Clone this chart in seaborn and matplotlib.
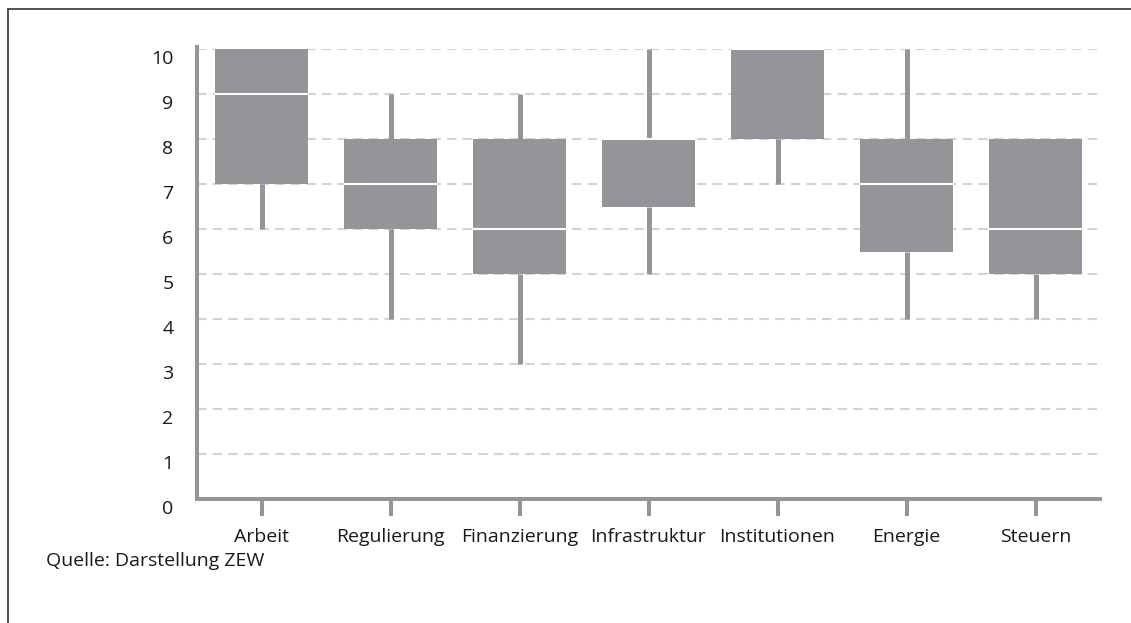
import numpy as np
import pandas as pd
import matplotlib
matplotlib.use("Agg")
import matplotlib.pyplot as plt
import matplotlib.transforms as mtransforms
from matplotlib.lines import Line2D
import seaborn as sns

# ---------------------------------------------------------------------------
# Data (five-number summary per category)
# ---------------------------------------------------------------------------
categories = ["Arbeit", "Regulierung", "Finanzierung", "Infrastruktur",
              "Institutionen", "Energie", "Steuern"]
whisker_low = [6, 4, 3, 5, 7, 4, 4]
q1 = [7, 6, 5, 6.5, 8, 5.5, 5]
median = [9, 7, 6, 8, 10, 7, 6]
q3 = [10, 8, 8, 8, 10, 8, 8]
whisker_high = [10, 9, 9, 10, 10, 10, 8]
y_ticks = list(range(0, 11))
source_text = "Quelle: Darstellung ZEW"

# five points per category reproduce the summary exactly
rows = []
for i, cat in enumerate(categories):
    for v in (whisker_low[i], q1[i], median[i], q3[i], whisker_high[i]):
        rows.append({"Bereich": cat, "Wert": v})
df = pd.DataFrame(rows)

# ---------------------------------------------------------------------------
# Style
# ---------------------------------------------------------------------------
sns.set_style("white")
plt.rcParams["font.family"] = ["Open Sans", "DejaVu Sans"]

BOX_GREY = "#939598"
GRID_GREY = "#d3d3d3"
TEXT = "#1a1a1a"

fig = plt.figure(figsize=(11.31, 6.23), dpi=100)
ax = fig.add_axes([197 / 1131, 1 - 499 / 623, (1100 - 197) / 1131, (499 - 49) / 623])

sns.boxplot(
    data=df, x="Bereich", y="Wert", order=categories, ax=ax,
    color=BOX_GREY, saturation=1, width=0.72, whis=(0, 100),
    showcaps=False, fliersize=0,
    boxprops=dict(facecolor=BOX_GREY, edgecolor="none", linewidth=0),
    whiskerprops=dict(color=BOX_GREY, linewidth=3.6, solid_capstyle="butt"),
    medianprops=dict(color="white", linewidth=1.5),
)

ax.set_ylim(0, 10)
ax.set_xlim(-0.5, len(categories) - 0.5)
ax.set_yticks(y_ticks)
ax.set_xlabel("")
ax.set_ylabel("")

# dashed grid, behind the boxes
ax.set_axisbelow(True)
ax.yaxis.grid(True, color=GRID_GREY, linewidth=1.5, linestyle=(0, (4.5, 3)))
ax.xaxis.grid(False)

for side in ["top", "right"]:
    ax.spines[side].set_visible(False)
for side in ["left", "bottom"]:
    ax.spines[side].set_color(BOX_GREY)
    ax.spines[side].set_linewidth(2.9)
ax.spines["left"].set_bounds(0, 10.05)

ax.tick_params(axis="x", bottom=True, direction="out", length=12, width=2.9,
               color=BOX_GREY, pad=9, labelsize=14, labelcolor=TEXT)
ax.tick_params(axis="y", left=False, length=0, pad=17, labelsize=14, labelcolor=TEXT)

# y labels sit a little below their gridlines in the original
shift = mtransforms.ScaledTranslation(0, -8 / 100, fig.dpi_scale_trans)
for lbl in ax.get_yticklabels():
    lbl.set_transform(lbl.get_transform() + shift)

fig.text(46 / 1131, 1 - 561 / 623, source_text, fontsize=14, color=TEXT,
         ha="left", va="center")

# frame: top and left only
fig.add_artist(Line2D([8 / 1131, 1], [1 - 9 / 623, 1 - 9 / 623],
                      transform=fig.transFigure, color="#333333", linewidth=1.2))
fig.add_artist(Line2D([8 / 1131, 8 / 1131], [0, 1 - 9 / 623],
                      transform=fig.transFigure, color="#333333", linewidth=1.2))

fig.savefig("out.png", dpi=100)
plt.close(fig)
